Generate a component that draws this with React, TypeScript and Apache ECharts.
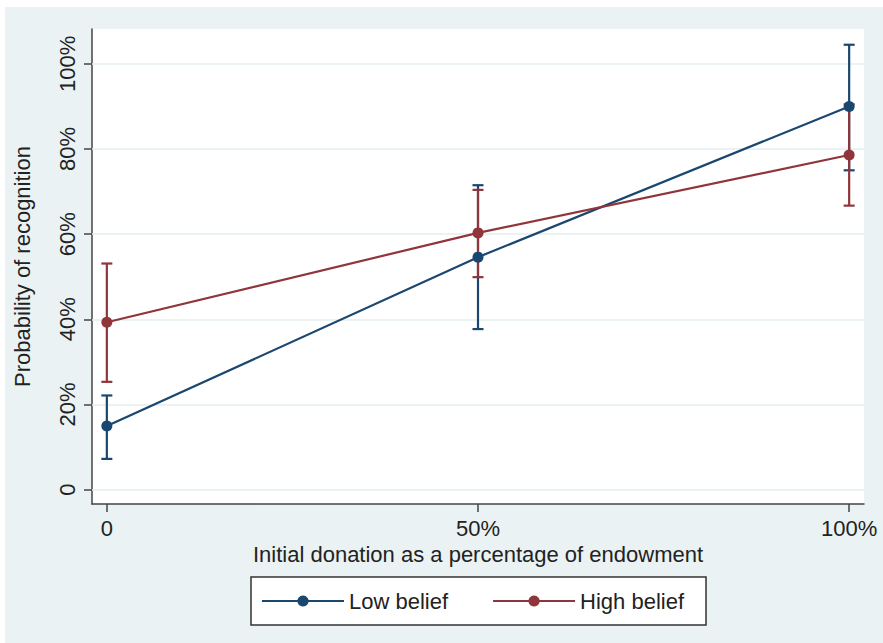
import React, { useEffect, useRef } from "react";
import * as echarts from "echarts";

const xValues = [0, 50, 100];
const xTickValues = [0, 50, 100];
const yTickValues = [0, 20, 40, 60, 80, 100];

const lowBelief = [14.9, 54.6, 90.0];
const lowBeliefLower = [7.2, 37.7, 75.0];
const lowBeliefUpper = [22.1, 71.5, 104.5];

const highBelief = [39.3, 60.3, 78.6];
const highBeliefLower = [25.3, 49.9, 66.7];
const highBeliefUpper = [53.1, 70.4, 90.5];

const BLUE = "#1a476f";
const RED = "#90353b";
const BG = "#eaf2f3";
const FONT = "'Liberation Sans', Arial, sans-serif";
const FS = 22;

function errorBarSeries(name: string, lower: number[], upper: number[], color: string, z: number) {
  return {
    type: "custom",
    name: name + " CI",
    z,
    silent: true,
    data: xValues.map((x, i) => [x, lower[i], upper[i]]),
    renderItem: (_params: any, api: any) => {
      const lo = api.coord([api.value(0), api.value(1)]);
      const hi = api.coord([api.value(0), api.value(2)]);
      const half = 5.5;
      const style = { stroke: color, lineWidth: 2.2 };
      return {
        type: "group",
        children: [
          { type: "line", shape: { x1: lo[0], y1: lo[1], x2: hi[0], y2: hi[1] }, style },
          { type: "line", shape: { x1: lo[0] - half, y1: lo[1], x2: lo[0] + half, y2: lo[1] }, style },
          { type: "line", shape: { x1: hi[0] - half, y1: hi[1], x2: hi[0] + half, y2: hi[1] }, style },
        ],
      };
    },
  };
}

export default function App() {
  const ref = useRef<HTMLDivElement>(null);
  useEffect(() => {
    document.body.style.margin = "0";
    const chart = echarts.init(ref.current!, null, { renderer: "svg" });
    const option: any = {
      animation: false,
      backgroundColor: "#ffffff",
      textStyle: { fontFamily: FONT },
      graphic: [
        {
          type: "rect",
          z: -10,
          silent: true,
          shape: { x: 5, y: 7, width: 878, height: 636 },
          style: { fill: BG },
        },
      ],
      grid: {
        left: 92,
        top: 29,
        right: 19,
        bottom: 139,
        show: true,
        backgroundColor: "#ffffff",
        borderWidth: 0,
      },
      legend: {
        left: 251,
        top: 577,
        padding: [13, 22, 13, 10],
        itemWidth: 82,
        itemHeight: 14,
        itemGap: 44,
        backgroundColor: "#ffffff",
        borderColor: "#333333",
        borderWidth: 1.5,
        borderRadius: 0,
        data: ["Low belief", "High belief"],
        textStyle: { fontSize: FS, color: "#222222", fontFamily: FONT },
      },
      xAxis: {
        type: "value",
        min: -2,
        max: 102,
        name: "Initial donation as a percentage of endowment",
        nameLocation: "middle",
        nameGap: 39,
        nameTextStyle: { fontSize: FS, color: "#222222", fontFamily: FONT },
        axisLine: { show: true, onZero: false, lineStyle: { color: "#444444", width: 1.5 } },
        axisTick: { show: true, length: 8, customValues: xTickValues, lineStyle: { color: "#444444", width: 1.5 } },
        axisLabel: {
          customValues: xTickValues,
          margin: 13,
          fontSize: FS,
          color: "#222222",
          fontFamily: FONT,
          formatter: (v: number) => (v === 0 ? "0" : v + "%"),
        },
        splitLine: { show: false },
      },
      yAxis: {
        type: "value",
        min: -3.4,
        max: 108.2,
        name: "Probability of recognition",
        nameLocation: "middle",
        nameGap: 59,
        nameTextStyle: { fontSize: FS, color: "#222222", fontFamily: FONT },
        axisLine: { show: true, onZero: false, lineStyle: { color: "#444444", width: 1.5 } },
        axisTick: { show: true, length: 8, customValues: yTickValues, lineStyle: { color: "#444444", width: 1.5 } },
        axisLabel: {
          customValues: yTickValues,
          rotate: 90,
          margin: 14,
          fontSize: FS,
          color: "#222222",
          fontFamily: FONT,
          formatter: (v: number) => (v === 0 ? "0" : v + "%"),
        },
        splitLine: { show: false },
      },
      series: [
        {
          type: "line",
          name: "gridlines",
          data: [],
          z: 1,
          silent: true,
          markLine: {
            silent: true,
            z: 1,
            symbol: "none",
            label: { show: false },
            lineStyle: { color: "#e4eef0", width: 1.5, type: "solid" },
            data: yTickValues.map((v) => ({ yAxis: v })),
          },
        },
        errorBarSeries("Low belief", lowBeliefLower, lowBeliefUpper, BLUE, 2),
        errorBarSeries("High belief", highBeliefLower, highBeliefUpper, RED, 3),
        {
          type: "line",
          name: "Low belief",
          z: 4,
          data: xValues.map((x, i) => [x, lowBelief[i]]),
          symbol: "circle",
          symbolSize: 11,
          color: BLUE,
          lineStyle: { color: BLUE, width: 2.2 },
          itemStyle: { color: BLUE },
        },
        {
          type: "line",
          name: "High belief",
          z: 5,
          data: xValues.map((x, i) => [x, highBelief[i]]),
          symbol: "circle",
          symbolSize: 11,
          color: RED,
          lineStyle: { color: RED, width: 2.2 },
          itemStyle: { color: RED },
        },
      ],
    };
    chart.setOption(option);
    return () => chart.dispose();
  }, []);
  return <div ref={ref} style={{ width: 883, height: 643 }} />;
}
